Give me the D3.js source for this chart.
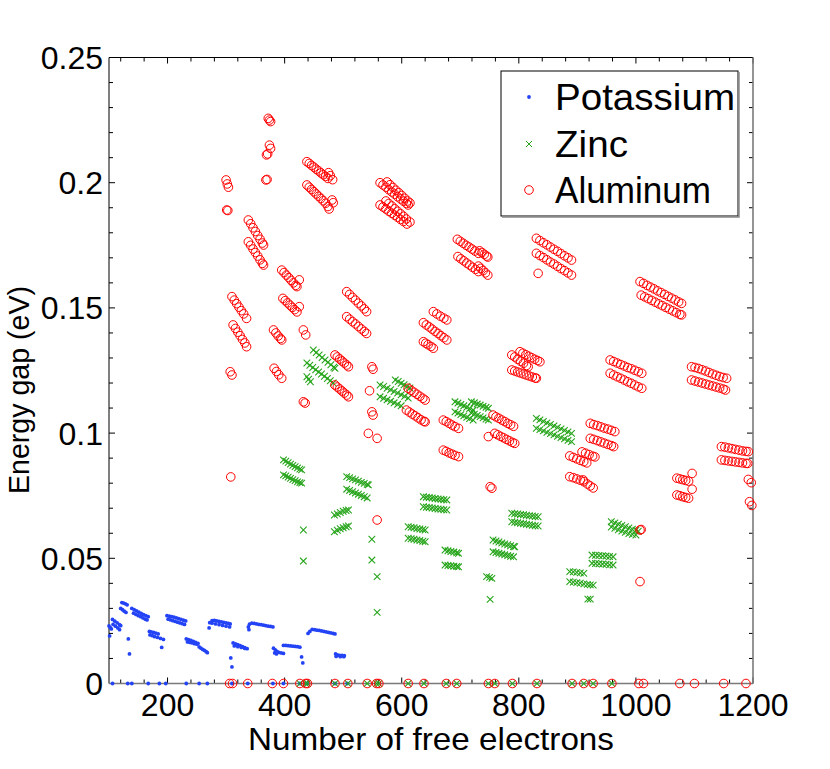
<!DOCTYPE html>
<html>
<head>
<meta charset="utf-8">
<script src="https://cdn.jsdelivr.net/npm/d3@7"></script>
<style>
  html, body { margin: 0; padding: 0; background: #fff; }
  svg { display: block; font-family: "Liberation Sans", Arial, Helvetica, sans-serif; }
</style>
</head>
<body>
<div id="chart"></div>
<script>
// energy gap vs. number of free electrons
const seriesNames = ["Potassium", "Zinc", "Aluminum"];
const xTicks = [200, 400, 600, 800, 1000, 1200];
const yTicks = [0, 0.05, 0.1, 0.15, 0.2, 0.25];
const yTickLabels = ["0", "0.05", "0.1", "0.15", "0.2", "0.25"];

const potassium = [
  [100,.0230],[102,.0224],[104,.0218],[101,.0190],
  [106,.0256],[110,.0249],[114,.0242],[118,.0235],[120,.0231],
  [107,.0236],[111,.0229],[115,.0222],[118,.0215],
  [122,.0323],[125,.0321],[128,.0318],[131,.0314],
  [120,.0300],[123,.0295],[126,.0289],[129,.0284],
  [133,.0178],[135,.0118],
  [139,.0300],[143,.0295],[147,.0290],[151,.0285],[155,.0280],[159,.0275],[163,.0271],[167,.0267],
  [142,.0281],[146,.0276],[150,.0271],[154,.0267],[158,.0262],[162,.0257],[165,.0254],
  [169,.0208],[172,.0206],[176,.0204],[180,.0201],[184,.0198],
  [170,.0194],[174,.0191],[178,.0187],[183,.0184],[188,.0180],[193,.0176],
  [190,.0144],
  [199,.0271],[203,.0269],[207,.0267],[211,.0265],[215,.0262],[219,.0259],[223,.0256],[227,.0253],[231,.0250],
  [201,.0257],[205,.0254],[209,.0251],[213,.0248],[217,.0245],[221,.0242],[225,.0239],[229,.0236],
  [232,.0178],[236,.0175],[240,.0172],[244,.0168],[248,.0164],[252,.0160],
  [234,.0166],[238,.0164],[242,.0162],[246,.0159],[250,.0157],
  [254,.0146],[257,.0141],[260,.0136],[263,.0132],[266,.0127],[268,.0123],
  [271,.0222],[272,.0243],[276,.0251],[280,.0252],[284,.0250],[288,.0248],[292,.0246],[296,.0244],[300,.0242],[304,.0240],[307,.0238],
  [276,.0241],[282,.0238],[288,.0235],[294,.0232],[300,.0229],[306,.0226],
  [308,.0102],[310,.0066],
  [312,.0162],[316,.0158],[320,.0155],[324,.0151],[328,.0147],[332,.0143],[336,.0139],
  [314,.0150],[320,.0147],[326,.0144],[332,.0140],
  [338,.0226],[339,.0215],[340,.0237],[344,.0241],[348,.0240],[352,.0238],[356,.0236],[360,.0235],[364,.0233],[368,.0231],[372,.0229],[376,.0228],[380,.0226],
  [381,.0141],[384,.0134],[387,.0128],[390,.0124],[394,.0122],[398,.0120],[383,.0122],[386,.0118],
  [398,.0152],[402,.0152],[406,.0151],[410,.0150],[414,.0149],[418,.0148],[422,.0147],[426,.0145],
  [429,.0106],[431,.0082],
  [440,.0200],[443,.0208],[447,.0216],[451,.0215],[455,.0213],[459,.0212],[463,.0210],[467,.0208],[471,.0206],[475,.0204],[479,.0202],[483,.0200],[486,.0198],
  [487,.0118],[490,.0114],[494,.0112],[498,.0112],[502,.0111],[488,.0108],[495,.0107],[501,.0107]
];
const potassiumZeros = [106,132,139,167,186,197,232,254,268,310,337,380,398,426,438,486,507];

const zinc = [
  [398,.0893],[402,.0888],[406,.0882],[410,.0876],[414,.0871],[418,.0866],[422,.0861],[426,.0856],[429,.0853],
  [398,.0833],[402,.0829],[406,.0824],[410,.0819],[414,.0814],[418,.0810],[422,.0805],[426,.0802],[429,.0800],
  [432,.0613],[432,.0489],
  [438,.1280],[443,.1271],[448,.1262],[453,.1253],[458,.1244],[463,.1236],[468,.1227],[473,.1218],[478,.1209],[483,.1200],
  [449,.1332],[454,.1322],[459,.1312],[464,.1302],[469,.1292],[474,.1283],[479,.1273],[484,.1263],[486,.1259],
  [438,.1225],[441,.1215],[444,.1205],
  [485,.0673],[490,.0677],[495,.0683],[500,.0688],[505,.0691],[509,.0693],
  [485,.0606],[490,.0612],[495,.0618],[500,.0622],[505,.0626],[509,.0629],
  [506,.0826],[511,.0822],[516,.0817],[521,.0813],[526,.0808],[531,.0803],[536,.0799],[541,.0795],[543,.0793],
  [506,.0776],[511,.0771],[516,.0766],[521,.0761],[526,.0756],[531,.0751],[536,.0746],[541,.0741],
  [549,.0576],[549,.0493],[558,.0427],[558,.0284],
  [589,.1212],[594,.1206],[599,.1199],[604,.1193],[609,.1186],[614,.1180],
  [563,.1192],[569,.1186],[575,.1179],[581,.1173],[587,.1166],[593,.1160],[599,.1153],[605,.1147],[611,.1140],
  [563,.1145],[569,.1139],[575,.1133],[581,.1127],[587,.1121],[593,.1115],[599,.1109],
  [611,.0626],[616,.0624],[621,.0622],[626,.0619],[631,.0617],[636,.0615],[640,.0613],
  [611,.0580],[616,.0578],[621,.0576],[626,.0573],[631,.0571],[636,.0568],[640,.0566],
  [637,.0746],[642,.0744],[647,.0743],[652,.0741],[657,.0739],[662,.0737],[667,.0736],[672,.0734],[677,.0733],
  [637,.0706],[642,.0704],[647,.0703],[652,.0701],[657,.0699],[662,.0697],[667,.0696],[672,.0694],[677,.0693],
  [674,.0533],[679,.0530],[684,.0527],[689,.0525],[694,.0522],[697,.0520],
  [674,.0473],[679,.0471],[684,.0470],[689,.0468],[694,.0467],[697,.0466],
  [691,.1125],[696,.1120],[701,.1114],[706,.1109],[711,.1103],[716,.1098],[722,.1092],
  [691,.1085],[696,.1080],[701,.1074],[706,.1069],[711,.1063],[716,.1058],[722,.1052],
  [719,.1125],[724,.1121],[729,.1116],[734,.1112],[739,.1107],[744,.1103],[748,.1099],
  [719,.1080],[724,.1076],[729,.1071],[734,.1066],[739,.1061],[744,.1056],[748,.1052],
  [745,.0427],[750,.0424],[754,.0420],[751,.0336],
  [756,.0573],[761,.0569],[766,.0565],[771,.0561],[776,.0557],[781,.0554],[786,.0550],[791,.0547],[793,.0546],
  [756,.0526],[761,.0523],[766,.0520],[771,.0517],[776,.0514],[781,.0511],[786,.0508],[791,.0506],
  [788,.0680],[793,.0678],[798,.0677],[803,.0675],[808,.0674],[813,.0672],[818,.0670],[823,.0669],[828,.0667],[833,.0666],
  [788,.0646],[793,.0644],[798,.0642],[803,.0640],[808,.0638],[813,.0636],[818,.0634],[823,.0632],[828,.0630],[833,.0629],
  [830,.1059],[836,.1053],[842,.1047],[848,.1041],[854,.1035],[860,.1029],[866,.1023],[872,.1017],[878,.1011],[884,.1005],[890,.0999],
  [830,.1019],[836,.1014],[842,.1009],[848,.1003],[854,.0998],[860,.0993],[866,.0987],[872,.0982],[878,.0977],[884,.0971],[890,.0966],
  [887,.0447],[893,.0446],[899,.0444],[905,.0442],[911,.0440],
  [887,.0407],[893,.0405],[899,.0403],[905,.0401],[911,.0398],[917,.0396],[922,.0394],[927,.0393],
  [918,.0337],[922,.0337],
  [925,.0513],[931,.0512],[937,.0511],[943,.0510],[949,.0509],[955,.0507],[961,.0506],
  [925,.0480],[931,.0479],[937,.0478],[943,.0477],[949,.0476],[955,.0474],[961,.0473],
  [958,.0646],[964,.0641],[970,.0636],[976,.0631],[982,.0626],[988,.0621],[994,.0616],[1000,.0612],[1004,.0608],
  [958,.0625],[964,.0620],[970,.0614],[976,.0609],[982,.0604],[988,.0599],[994,.0596],[1000,.0593]
];
const zincZeros = [426,436,439,486,508,541,557,561,611,638,676,694,748,759,789,831,891,911,927,959];

const aluminum = [
  [372,.2257],[374,.2250],[376,.2244],
  [374,.2150],[376,.2137],[369,.2111],[371,.2115],
  [368,.2011],[370,.2013],
  [300,.2011],[302,.1995],[304,.1982],[301,.1891],[303,.1889],
  [308,.0825],
  [338,.1851],[342,.1836],[346,.1820],[350,.1805],[354,.1789],[358,.1774],[362,.1759],[364,.1751],
  [338,.1764],[342,.1750],[346,.1735],[350,.1721],[354,.1707],[358,.1692],[362,.1678],[364,.1671],
  [438,.2084],[442,.2077],[446,.2069],[450,.2062],[454,.2054],[458,.2047],[462,.2039],[466,.2032],[470,.2025],[474,.2017],
  [475,.2040],[478,.2028],[482,.2012],
  [438,.1991],[442,.1982],[446,.1973],[450,.1964],[454,.1955],[458,.1946],[462,.1937],[466,.1928],[470,.1918],[474,.1905],[476,.1895],
  [481,.1931],[483,.1920],
  [563,.2000],[568,.1991],[573,.1982],[578,.1972],[583,.1963],[588,.1954],[593,.1944],[598,.1935],[603,.1926],[608,.1917],[611,.1911],
  [575,.2003],[580,.1992],[585,.1981],[590,.1970],[595,.1960],[600,.1949],[605,.1938],[610,.1927],[614,.1919],
  [563,.1911],[568,.1903],[573,.1895],[578,.1886],[583,.1878],[588,.1870],[593,.1862],[598,.1853],[603,.1845],[609,.1835],
  [573,.1927],[578,.1917],[583,.1907],[588,.1896],[593,.1886],[598,.1876],[603,.1866],[608,.1855],[614,.1843],
  [695,.1774],[700,.1766],[705,.1758],[710,.1750],[715,.1743],[720,.1735],[725,.1727],[731,.1718],
  [733,.1728],[737,.1721],[741,.1714],[745,.1707],[747,.1703],
  [696,.1705],[701,.1696],[706,.1688],[711,.1679],[716,.1671],[721,.1662],[726,.1654],[731,.1645],
  [731,.1667],[735,.1658],[739,.1649],[743,.1640],[747,.1631],
  [830,.1778],[836,.1769],[842,.1760],[848,.1752],[854,.1743],[860,.1734],[866,.1726],[872,.1717],[878,.1708],[884,.1700],[890,.1691],
  [830,.1718],[836,.1709],[842,.1701],[848,.1692],[854,.1683],[860,.1675],[866,.1666],[872,.1657],[878,.1649],[884,.1640],[890,.1631],
  [833,.1638],
  [654,.1485],[660,.1476],[666,.1467],[672,.1459],[677,.1452],
  [637,.1441],[642,.1432],[647,.1424],[652,.1415],[657,.1406],[662,.1398],[667,.1389],[672,.1381],[677,.1372],
  [637,.1365],[641,.1359],[645,.1353],[650,.1346],[654,.1339],
  [788,.1312],[793,.1304],[798,.1295],[803,.1287],[808,.1279],[813,.1270],[816,.1265],
  [802,.1325],[807,.1319],[812,.1313],[817,.1307],[822,.1301],[827,.1295],[832,.1290],[836,.1285],
  [788,.1252],[793,.1248],[798,.1244],[803,.1240],[808,.1236],[813,.1232],[818,.1228],[823,.1224],[828,.1220],[830,.1219],
  [611,.1179],[616,.1171],[621,.1163],[626,.1155],[631,.1147],[636,.1139],[640,.1132],
  [608,.1092],[613,.1084],[618,.1076],[623,.1069],[628,.1061],[633,.1053],[638,.1047],[640,.1045],
  [756,.1072],[761,.1065],[766,.1059],[771,.1052],[776,.1046],[781,.1039],[786,.1033],[791,.1027],
  [759,.0999],[764,.0993],[769,.0987],[774,.0981],[779,.0975],[784,.0969],[789,.0963],[793,.0959],
  [748,.0986],
  [671,.1052],[676,.1046],[681,.1039],[686,.1032],[691,.1026],[697,.1019],
  [671,.0932],[676,.0927],[681,.0921],[686,.0916],[691,.0911],[697,.0906],
  [751,.0786],[754,.0780],
  [543,.0999],[558,.0979],[558,.0653],
  [1007,.1605],[1013,.1598],[1019,.1590],[1025,.1583],[1031,.1576],[1037,.1568],[1043,.1561],[1049,.1554],[1055,.1546],[1061,.1539],[1067,.1532],[1073,.1524],[1078,.1518],
  [1009,.1551],[1015,.1544],[1021,.1537],[1027,.1530],[1033,.1523],[1039,.1516],[1045,.1509],[1051,.1502],[1057,.1495],[1063,.1488],[1069,.1481],[1075,.1474],[1078,.1472],
  [956,.1292],[962,.1286],[968,.1280],[974,.1274],[980,.1268],[986,.1262],[992,.1257],[998,.1251],[1004,.1245],[1010,.1239],
  [956,.1239],[962,.1232],[968,.1225],[974,.1219],[980,.1212],[986,.1205],[992,.1199],[998,.1192],[1004,.1185],[1010,.1179],
  [1095,.1265],[1101,.1262],[1107,.1258],[1113,.1253],[1119,.1248],[1125,.1242],[1131,.1236],[1137,.1231],[1143,.1226],[1149,.1222],[1155,.1219],
  [1095,.1212],[1101,.1208],[1107,.1204],[1113,.1200],[1119,.1196],[1125,.1192],[1131,.1188],[1137,.1184],[1143,.1180],[1149,.1176],[1153,.1172],
  [922,.1039],[928,.1034],[934,.1030],[940,.1025],[946,.1020],[952,.1016],[958,.1011],[964,.1006],
  [922,.0979],[928,.0975],[934,.0970],[940,.0965],[946,.0960],[952,.0955],[958,.0950],[962,.0946],
  [887,.0909],[893,.0903],[899,.0897],[905,.0891],[911,.0886],[916,.0881],
  [908,.0925],[914,.0920],[920,.0914],[926,.0908],[930,.0905],
  [887,.0826],[893,.0822],[899,.0817],[905,.0812],[910,.0813],[911,.0806],[917,.0797],[922,.0789],[927,.0781],
  [1070,.0820],[1075,.0817],[1080,.0814],[1085,.0811],[1090,.0808],[1096,.0839],
  [1070,.0753],[1075,.0750],[1080,.0746],[1085,.0743],[1090,.0740],[1096,.0776],
  [1146,.0946],[1152,.0944],[1158,.0941],[1164,.0938],[1170,.0935],[1176,.0932],[1182,.0929],[1188,.0927],[1192,.0926],
  [1146,.0893],[1152,.0891],[1158,.0889],[1164,.0887],[1170,.0885],[1176,.0883],[1182,.0881],[1188,.0879],[1191,.0879],
  [1192,.0815],[1197,.0802],[1194,.0726],[1198,.0711],
  [1007,.0613],[1009,.0615],[1007,.0407],
  [310,.1545],[314,.1531],[318,.1517],[322,.1503],[326,.1489],[330,.1476],[335,.1458],
  [312,.1432],[316,.1418],[320,.1403],[324,.1389],[328,.1374],[332,.1360],[335,.1345],
  [395,.1651],[399,.1641],[403,.1631],[407,.1621],[411,.1610],[415,.1600],[419,.1590],[421,.1585],[425,.1612],
  [397,.1538],[401,.1529],[405,.1520],[409,.1511],[413,.1502],[417,.1493],[421,.1484],[425,.1505],
  [506,.1565],[511,.1554],[516,.1542],[521,.1531],[526,.1519],[531,.1508],[536,.1496],[540,.1485],
  [506,.1465],[511,.1455],[516,.1445],[521,.1436],[526,.1426],[531,.1416],[536,.1406],[540,.1398],
  [381,.1412],[385,.1400],[389,.1388],[393,.1378],[395,.1372],
  [432,.1412],[436,.1392],
  [307,.1245],[310,.1232],
  [382,.1259],[386,.1246],[390,.1233],[395,.1219],
  [432,.1125],[435,.1120],
  [486,.1312],[490,.1304],[494,.1296],[498,.1288],[502,.1280],[506,.1272],[509,.1265],
  [486,.1192],[490,.1184],[494,.1176],[498,.1168],[502,.1160],[506,.1152],[509,.1145],
  [549,.1265],[551,.1255],[545,.1169],[549,.1085],[551,.1072]
];
const aluminumZeros = [306,311,337,379,398,426,436,439,486,508,541,557,561,611,638,676,694,748,759,789,831,891,911,927,959,1005,1013,1075,1100,1150,1188];

const COLORS = { Potassium: "#2343f5", Zinc: "#27a51b", Aluminum: "#ff0000" };

function renderChart(container) {
  const width = 830;
  const height = 769;
  const margin = { top: 57.5, right: 77, bottom: 85.5, left: 109 };
  const plotW = width - margin.left - margin.right;
  const plotH = height - margin.top - margin.bottom;

  const svg = d3.select(container).append("svg")
    .attr("width", width)
    .attr("height", height)
    .attr("viewBox", [0, 0, width, height]);

  svg.append("rect").attr("width", width).attr("height", height).attr("fill", "#fff");

  const x = d3.scaleLinear().domain([100, 1200]).range([margin.left, margin.left + plotW]);
  const y = d3.scaleLinear().domain([0, 0.25]).range([margin.top + plotH, margin.top]);

  const x0 = x.range()[0], x1 = x.range()[1];
  const y0 = y.range()[0], y1 = y.range()[1];

  // inward ticks on all four sides
  const minorX = d3.range(120, 1200.1, 40);
  const minorY = d3.range(0, 0.2501, 0.01);
  const ticks = svg.append("g").attr("stroke", "#000").attr("stroke-width", 1);
  minorX.forEach((v) => {
    const len = xTicks.includes(Math.round(v)) ? 6 : 4;
    ticks.append("line").attr("x1", x(v)).attr("x2", x(v)).attr("y1", y0).attr("y2", y0 - len);
    ticks.append("line").attr("x1", x(v)).attr("x2", x(v)).attr("y1", y1).attr("y2", y1 + len);
  });
  minorY.forEach((v) => {
    const major = yTicks.some((t) => Math.abs(t - v) < 1e-6);
    const len = major ? 6 : 4;
    ticks.append("line").attr("x1", x0).attr("x2", x0 + len).attr("y1", y(v)).attr("y2", y(v));
    ticks.append("line").attr("x1", x1).attr("x2", x1 - len).attr("y1", y(v)).attr("y2", y(v));
  });

  // axis box
  svg.append("line").attr("x1", x0).attr("x2", x1).attr("y1", y1).attr("y2", y1).attr("stroke", "#000");
  svg.append("line").attr("x1", x0).attr("x2", x0).attr("y1", y1).attr("y2", y0).attr("stroke", "#000");
  svg.append("line").attr("x1", x0).attr("x2", x1).attr("y1", y0).attr("y2", y0).attr("stroke", "#7a7a7a").attr("stroke-width", 1.6);
  svg.append("line").attr("x1", x1).attr("x2", x1).attr("y1", y1).attr("y2", y0).attr("stroke", "#7a7a7a").attr("stroke-width", 1.6);

  // tick labels
  svg.append("g").selectAll("text").data(xTicks).join("text")
    .attr("x", (d) => x(d)).attr("y", 716)
    .attr("text-anchor", "middle").attr("font-size", "32px").attr("fill", "#000")
    .text((d) => d);

  svg.append("g").selectAll("text").data(yTicks).join("text")
    .attr("x", 103).attr("y", (d) => y(d)).attr("dy", "0.36em")
    .attr("text-anchor", "end").attr("font-size", "32px").attr("fill", "#000")
    .text((d, i) => yTickLabels[i]);

  svg.append("text").attr("x", (x0 + x1) / 2).attr("y", 750)
    .attr("text-anchor", "middle").attr("font-size", "32px").attr("fill", "#000")
    .attr("textLength", 366).attr("lengthAdjust", "spacingAndGlyphs")
    .text("Number of free electrons");

  svg.append("text").attr("transform", "translate(29,390) rotate(-90)")
    .attr("text-anchor", "middle").attr("font-size", "30px").attr("fill", "#000")
    .attr("textLength", 208).attr("lengthAdjust", "spacingAndGlyphs")
    .text("Energy gap (eV)");

  const xPath = (s) => `M${-s},${-s}L${s},${s}M${-s},${s}L${s},${-s}`;

  function drawDots(g, pts) {
    g.selectAll("circle").data(pts).join("circle")
      .attr("cx", (d) => x(d[0])).attr("cy", (d) => y(d[1]))
      .attr("r", 1.9).attr("fill", COLORS.Potassium);
  }
  function drawCrosses(g, pts) {
    g.selectAll("path").data(pts).join("path")
      .attr("transform", (d) => `translate(${x(d[0])},${y(d[1])})`)
      .attr("d", xPath(3.3)).attr("fill", "none")
      .attr("stroke", COLORS.Zinc).attr("stroke-width", 1.1);
  }
  function drawRings(g, pts) {
    g.selectAll("circle").data(pts).join("circle")
      .attr("cx", (d) => x(d[0])).attr("cy", (d) => y(d[1]))
      .attr("r", 4.3).attr("fill", "none")
      .attr("stroke", COLORS.Aluminum).attr("stroke-width", 1);
  }

  const withZeros = (pts, zeros) => pts.concat(zeros.map((v) => [v, 0]));

  drawDots(svg.append("g"), withZeros(potassium, potassiumZeros));
  drawCrosses(svg.append("g"), withZeros(zinc, zincZeros));
  drawRings(svg.append("g"), withZeros(aluminum, aluminumZeros));

  // legend
  const lg = svg.append("g");
  lg.append("rect").attr("x", 501).attr("y", 71).attr("width", 237).attr("height", 145)
    .attr("fill", "#fff").attr("stroke", "#000").attr("stroke-width", 1);
  lg.append("path").attr("d", "M502,217H739V72").attr("fill", "none")
    .attr("stroke", "#8a8a8a").attr("stroke-width", 1.5);

  const rows = [97, 144, 190];
  const baselines = [110, 157, 203];
  const textLengths = [180, 73, 156];
  lg.append("circle").attr("cx", 529).attr("cy", rows[0]).attr("r", 1.9).attr("fill", COLORS.Potassium);
  lg.append("path").attr("transform", `translate(529,${rows[1]})`).attr("d", xPath(3))
    .attr("stroke", COLORS.Zinc).attr("fill", "none");
  lg.append("circle").attr("cx", 529).attr("cy", rows[2]).attr("r", 4.3).attr("fill", "none")
    .attr("stroke", COLORS.Aluminum);
  lg.selectAll("text").data(seriesNames).join("text")
    .attr("x", 555).attr("y", (d, i) => baselines[i])
    .attr("font-size", "37px").attr("fill", "#000")
    .attr("textLength", (d, i) => textLengths[i]).attr("lengthAdjust", "spacingAndGlyphs")
    .text((d) => d);
}

renderChart(document.getElementById("chart"));
</script>
</body>
</html>
